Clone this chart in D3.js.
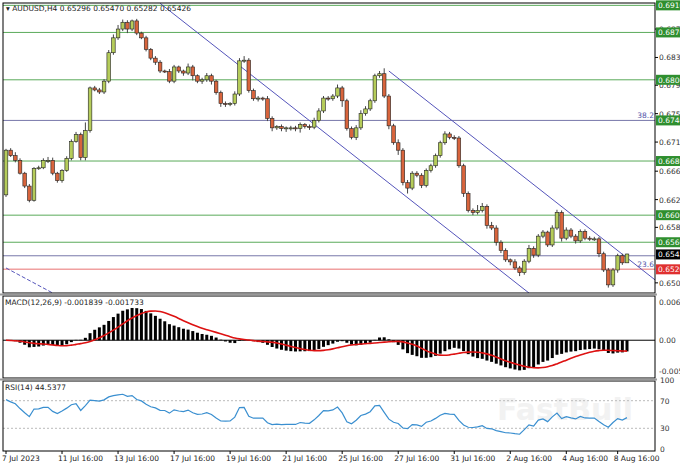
<!DOCTYPE html>
<html>
<head>
<meta charset="utf-8">
<script src="https://cdn.jsdelivr.net/npm/d3@7"></script>
<style>
  body { margin: 0; background: #fff; }
  svg { font-family: "DejaVu Sans", sans-serif; }
</style>
</head>
<body>
<div id="chart"></div>
<script>
// AUDUSD H4 closes
const closes = [
  0.6696,0.6688,0.6681,0.6662,0.6643,0.6622,0.6669,0.6670,0.6681,0.6681,
  0.6662,0.6651,0.6666,0.6684,0.6709,0.6719,0.6685,0.6725,0.6788,0.6785,
  0.6782,0.6798,0.6840,0.6862,0.6875,0.6885,0.6875,0.6887,0.6869,0.6862,
  0.6845,0.6832,0.6826,0.6813,0.6812,0.6798,0.6819,0.6813,0.6810,0.6819,
  0.6806,0.6798,0.6800,0.6806,0.6798,0.6781,0.6765,0.6764,0.6765,0.6779,
  0.6828,0.6829,0.6784,0.6772,0.6773,0.6772,0.6743,0.6729,0.6731,0.6728,
  0.6729,0.6729,0.6728,0.6734,0.6731,0.6730,0.6740,0.6754,0.6773,0.6772,
  0.6776,0.6788,0.6769,0.6728,0.6715,0.6729,0.6750,0.6757,0.6769,0.6806,
  0.6809,0.6776,0.6732,0.6707,0.6696,0.6648,0.6640,0.6662,0.6659,0.6644,
  0.6666,0.6673,0.6688,0.6707,0.6720,0.6715,0.6714,0.6673,0.6632,0.6607,
  0.6604,0.6607,0.6613,0.6585,0.6581,0.6560,0.6548,0.6534,0.6531,0.6522,
  0.6515,0.6532,0.6551,0.6541,0.6569,0.6575,0.6556,0.6581,0.6604,0.6566,
  0.6578,0.6569,0.6562,0.6576,0.6566,0.6565,0.6565,0.6543,0.6519,0.6497,
  0.6519,0.6540,0.65296,0.65426
];
const firstOpen = 0.6630;
// wick lengths in pips (0.0001)
const wickUp = [
  2,3,5,3,2,3,2,3,3,5, 4,2,2,3,3,4,3,12,2,3, 3,3,4,5,6,4,3,2,3,2,
  3,2,3,3,2,4,3,2,2,5, 3,2,3,4,3,2,3,3,2,4, 4,6,3,3,3,2,4,3,2,3,
  2,3,3,3,2,3,4,4,3,3, 3,5,3,3,3,4,5,4,3,3, 4,8,3,3,5,3,4,3,3,3,
  3,3,3,3,4,3,3,3,3,3, 3,8,5,3,5,4,3,3,2,4, 3,3,5,3,3,3,2,4,4,3,
  4,3,3,3,3,3,3,3,3,3, 3,3,3,0.4
];
const wickDown = [
  3,2,3,2,3,3,2,2,2,4, 3,3,3,2,3,2,4,4,3,2, 3,3,3,3,3,3,6,3,3,2,
  3,3,4,3,2,3,3,3,4,3, 7,3,4,3,5,3,5,4,3,3, 3,3,3,3,4,3,4,5,3,4,
  5,4,4,6,3,4,3,3,3,3, 3,3,9,3,3,4,3,3,3,3, 3,3,5,3,7,4,8,3,3,4,
  3,3,3,3,3,3,3,3,5,3, 4,3,3,5,3,5,4,3,5,3, 5,3,3,4,3,3,3,3,3,5,
  3,3,4,3,3,3,3,5,3,4, 3,4,3,0.1
];

const greenLevels = [0.6910, 0.6870, 0.6800, 0.6680, 0.6600, 0.6560];
const blueLevels = [0.6740, 0.6540];
const redLevels = [0.6520];
const greyTicks = ["0.687","0.683","0.679","0.675","0.671","0.666","0.662","0.658","0.650"];
const greyTickValues = [0.6875,0.6833,0.6792,0.6750,0.6708,0.6665,0.6623,0.6582,0.6500];
const fibLabels = [["38.2", 0.6740], ["23.6", 0.6520]];
// channel lines: [bar index, price] endpoints
const channels = [
  [[33, 0.6913], [112, 0.6485]],
  [[82, 0.6813], [140, 0.6499]]
];
const dashedLine = [[0, 0.6522], [10, 0.6485]];

const timeLabels = ["7 Jul 2023","11 Jul 16:00","13 Jul 16:00","17 Jul 16:00","19 Jul 16:00",
  "21 Jul 16:00","25 Jul 16:00","27 Jul 16:00","31 Jul 16:00","2 Aug 16:00","4 Aug 16:00","8 Aug 16:00"];
const timeIdx = [0,12,24,36,48,60,72,84,96,108,120,131];

const W = 680, H = 463;
const left = 3, right = 655;
const pane1 = [3, 293], pane2 = [296, 378], pane3 = [381, 451];

const n = closes.length;
const bars = closes.map((c, i) => {
  const o = i === 0 ? firstOpen : closes[i - 1];
  return { i, o, c, h: Math.max(o, c) + wickUp[i] * 0.0001, l: Math.min(o, c) - wickDown[i] * 0.0001 };
});

// MACD(12,26,9) and RSI(14) from the closes
function ema(arr, p) {
  const k = 2 / (p + 1); let e = arr[0];
  return arr.map(v => (e = v * k + e * (1 - k)));
}
const e12 = ema(closes, 12), e26 = ema(closes, 26);
const macd = closes.map((c, i) => e12[i] - e26[i]);
const signal = macd.map((m, i) => d3.mean(macd.slice(Math.max(0, i - 8), i + 1)));
const rsi = [];
let ag = 0.0005, al = 0.0004;
closes.forEach((c, i) => {
  const ch = i === 0 ? c - firstOpen : c - closes[i - 1];
  ag = (ag * 13 + Math.max(ch, 0)) / 14;
  al = (al * 13 + Math.max(-ch, 0)) / 14;
  rsi.push(100 - 100 / (1 + ag / al));
});

const svg = d3.select("#chart").append("svg").attr("width", W).attr("height", H);
svg.append("rect").attr("width", W).attr("height", H).attr("fill", "#fff");

const x = d3.scaleLinear().domain([0, n - 1]).range([6, 627]);
const y = d3.scaleLinear().domain([0.6485, 0.6912]).range([pane1[1], 4]);
const ym = d3.scaleLinear().domain([-0.0058, 0.0062]).range([376, 302]);
const yr = d3.scaleLinear().domain([0, 100]).range([449, 380]);

// watermark
svg.append("text").attr("x", 565).attr("y", 420).attr("text-anchor", "middle")
  .attr("font-size", 30).attr("font-weight", "bold").attr("fill", "#f2f2f2").text("FastBull");

const hl = (v, col, w) => svg.append("line").attr("x1", left).attr("x2", right)
  .attr("y1", y(v)).attr("y2", y(v)).attr("stroke", col).attr("stroke-width", w || 1);
greenLevels.forEach(v => hl(v, "#5aaa5a"));
blueLevels.forEach(v => hl(v, "#7777aa"));
redLevels.forEach(v => hl(v, "#f0a0a0", 1.5));

const line = d3.line().x(d => x(d[0])).y(d => y(d[1]));
const g = svg.append("g");
svg.append("clipPath").attr("id", "pc").append("rect")
  .attr("x", left).attr("y", pane1[0]).attr("width", right - left).attr("height", pane1[1] - pane1[0]);
channels.forEach(c => g.append("path").attr("d", line(c)).attr("stroke", "#5555bb")
  .attr("fill", "none").attr("clip-path", "url(#pc)"));
g.append("path").attr("d", line(dashedLine)).attr("stroke", "#5555bb").attr("stroke-dasharray", "4,2")
  .attr("fill", "none").attr("clip-path", "url(#pc)");

fibLabels.forEach(f => svg.append("text").attr("x", 654).attr("y", y(f[1]) - 2)
  .attr("text-anchor", "end").attr("font-size", 7.5).attr("fill", "#5555aa").text(f[0]));

// candles
const cg = svg.append("g");
cg.selectAll(".wick").data(bars).enter().append("line")
  .attr("x1", d => x(d.i)).attr("x2", d => x(d.i))
  .attr("y1", d => y(d.h)).attr("y2", d => y(d.l)).attr("stroke", "#444");
cg.selectAll(".body").data(bars).enter().append("rect")
  .attr("x", d => x(d.i) - 1.8).attr("width", 3.6)
  .attr("y", d => y(Math.max(d.o, d.c)))
  .attr("height", d => Math.max(1, Math.abs(y(d.o) - y(d.c))))
  .attr("fill", d => d.c >= d.o ? "#b5cc5a" : "#d8643c")
  .attr("stroke", "#222").attr("stroke-width", 0.6);

// MACD pane
svg.append("line").attr("x1", left).attr("x2", right).attr("y1", ym(0)).attr("y2", ym(0))
  .attr("stroke", "#000");
svg.selectAll(".hist").data(macd).enter().append("rect")
  .attr("x", (d, i) => x(i) - 1.5).attr("width", 3)
  .attr("y", d => Math.min(ym(d), ym(0))).attr("height", d => Math.abs(ym(d) - ym(0)))
  .attr("fill", "#000");
svg.append("path").datum(signal)
  .attr("d", d3.line().x((d, i) => x(i)).y(d => ym(d)).curve(d3.curveMonotoneX))
  .attr("fill", "none").attr("stroke", "#d11").attr("stroke-width", 1.6);

// RSI pane
[70, 30].forEach(v => svg.append("line").attr("x1", left).attr("x2", right)
  .attr("y1", yr(v)).attr("y2", yr(v)).attr("stroke", "#bbb").attr("stroke-dasharray", "2,2"));
svg.append("path").datum(rsi)
  .attr("d", d3.line().x((d, i) => x(i)).y(d => yr(d)))
  .attr("fill", "none").attr("stroke", "#3a8fd0").attr("stroke-width", 1.2);

// pane frames
[pane1, pane2, pane3].forEach(p => svg.append("rect").attr("x", left).attr("y", p[0])
  .attr("width", right - left).attr("height", p[1] - p[0]).attr("fill", "none").attr("stroke", "#000"));
svg.append("rect").attr("x", 0).attr("y", pane1[1] + 0.5).attr("width", right + 2).attr("height", 2).attr("fill", "#999");
svg.append("rect").attr("x", 0).attr("y", pane2[1] + 0.5).attr("width", right + 2).attr("height", 2).attr("fill", "#999");

// right price labels
const axisG = svg.append("g").attr("font-size", 7.5);
greyTicks.forEach((t, i) => {
  const yy = y(greyTickValues[i]);
  axisG.append("line").attr("x1", right).attr("x2", right + 3).attr("y1", yy).attr("y2", yy).attr("stroke", "#000");
  axisG.append("text").attr("x", right + 4).attr("y", yy + 3).attr("fill", "#333").text(t);
});
const box = (v, bg, txt) => {
  const yy = y(v);
  axisG.append("rect").attr("x", right + 1).attr("y", yy - 5).attr("width", 26).attr("height", 10).attr("fill", bg);
  axisG.append("text").attr("x", right + 3).attr("y", yy + 3).attr("fill", "#fff").text(txt);
};
greenLevels.forEach(v => box(v, "#2f8f2f", v.toFixed(4)));
box(0.6740, "#2f8f2f", "0.6740");
box(0.6542, "#000", "0.6542");
box(0.6520, "#e03030", "0.6520");

const macdTicks = [[0.0062, "0.0062"], [0, "0.00"], [-0.005, "-0.005"]];
macdTicks.forEach(t => axisG.append("text").attr("x", right + 4).attr("y", ym(t[0]) + 3)
  .attr("fill", "#333").text(t[1]));
[100, 70, 30, 0].forEach(v => axisG.append("text").attr("x", right + 5).attr("y", yr(v) + 3)
  .attr("fill", "#333").text(v));

// time axis
const tg = svg.append("g").attr("font-size", 7.5);
timeIdx.forEach((ix, k) => {
  const xx = x(ix);
  tg.append("line").attr("x1", xx).attr("x2", xx).attr("y1", pane3[1]).attr("y2", pane3[1] + 3).attr("stroke", "#000");
  tg.append("text").attr("x", k === 0 ? 2 : xx - 4).attr("y", 461).attr("fill", "#222").text(timeLabels[k]);
});

// titles
svg.append("text").attr("x", 6).attr("y", 11).attr("font-size", 7.5).attr("fill", "#222")
  .text("▾ AUDUSD,H4  0.65296 0.65470 0.65282 0.65426");
svg.append("text").attr("x", 5).attr("y", 305).attr("font-size", 7.5).attr("fill", "#222")
  .text("MACD(12,26,9) -0.001839 -0.001733");
svg.append("text").attr("x", 5).attr("y", 390).attr("font-size", 7.5).attr("fill", "#222")
  .text("RSI(14) 44.5377");
</script>
</body>
</html>
